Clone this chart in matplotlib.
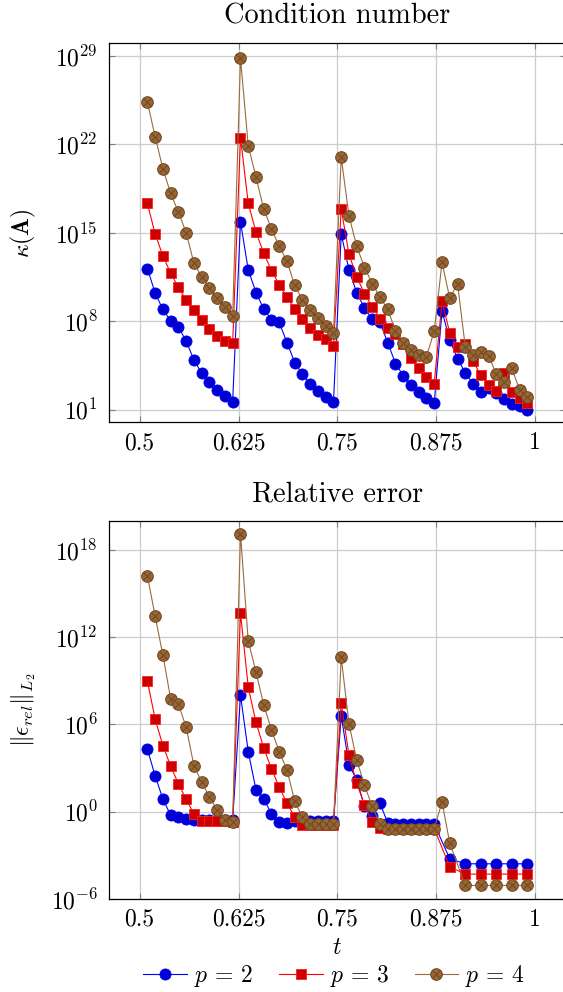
import numpy as np
import matplotlib
matplotlib.use('Agg')
import matplotlib.pyplot as plt
from matplotlib.path import Path
from matplotlib.ticker import FixedLocator, NullLocator

plt.rcParams.update({
    'font.family': 'serif',
    'font.serif': ['cmr10'],
    'mathtext.fontset': 'cm',
    'axes.formatter.use_mathtext': True,
    'font.size': 17,
    'axes.unicode_minus': True,
})

# ---------------- data ----------------
t = [0.5098, 0.5196, 0.5294, 0.5392, 0.5490, 0.5588, 0.5686, 0.5784, 0.5882, 0.5980,
     0.6078, 0.6176, 0.6275, 0.6373, 0.6471, 0.6569, 0.6667, 0.6765, 0.6863, 0.6961,
     0.7059, 0.7157, 0.7255, 0.7353, 0.7451, 0.7549, 0.7647, 0.7745, 0.7843, 0.7941,
     0.8039, 0.8137, 0.8235, 0.8333, 0.8431, 0.8529, 0.8627, 0.8725, 0.8824, 0.8922,
     0.9020, 0.9118, 0.9216, 0.9314, 0.9412, 0.9510, 0.9608, 0.9706, 0.9804, 0.9902]

# log10 of condition number
kappa_p2 = [12.17, 10.22, 8.93, 8.02, 7.55, 6.42, 4.94, 3.88, 3.17, 2.56, 2.09, 1.64,
            15.86, 12.06, 10.27, 8.97, 8.13, 7.90, 6.31, 4.73, 3.80, 3.04, 2.46, 2.01, 1.59,
            14.94, 12.04, 10.27, 9.05, 8.18, 7.90, 6.31, 4.65, 3.70, 2.99, 2.36, 1.94, 1.53,
            8.79, 6.50, 5.04, 3.91, 3.07, 2.40, 2.75, 2.32, 1.85, 1.48, 1.26, 0.95]
kappa_p3 = [17.32, 14.89, 13.17, 11.80, 10.67, 9.69, 8.85, 8.08, 7.37, 6.81, 6.44, 6.28,
            22.51, 17.34, 15.05, 13.38, 12.00, 10.90, 9.90, 8.97, 8.16, 7.50, 6.89, 6.57, 6.04,
            16.87, 13.30, 11.51, 10.19, 9.13, 8.18, 7.50, 6.97, 6.23, 5.09, 4.30, 3.59, 3.06,
            9.58, 7.07, 5.92, 6.23, 4.85, 3.72, 2.99, 2.48, 3.91, 2.40, 1.92, 1.53]
kappa_p4 = [25.34, 22.60, 20.06, 18.11, 16.65, 15.00, 12.59, 11.51, 10.64, 9.82, 9.11, 8.40,
            28.80, 21.90, 19.40, 16.89, 15.28, 13.94, 12.75, 10.83, 9.69, 8.90, 8.24, 7.60, 7.05,
            20.96, 16.34, 13.94, 12.25, 10.98, 9.90, 8.95, 7.23, 6.28, 5.76, 5.33, 5.20, 7.21,
            12.65, 9.80, 10.98, 5.97, 5.31, 5.57, 5.23, 3.86, 3.15, 4.28, 2.59, 2.04]

# relative error samples (indices into t)
err_idx_p23 = list(range(0, 38)) + [39, 41, 43, 45, 47, 49]
err_idx_p4 = list(range(0, 40)) + [41, 43, 45, 47, 49]

# log10 of relative error
err_p2 = [4.29, 2.45, 0.87, -0.25, -0.39, -0.50, -0.55, -0.60, -0.60, -0.60, -0.60, -0.60,
          8.01, 4.13, 1.51, 0.87, -0.14, -0.71, -0.75, -0.62, -0.62, -0.62, -0.62, -0.62, -0.62,
          6.58, 3.22, 2.19, 0.36, -0.30, 0.59, -0.78, -0.85, -0.85, -0.85, -0.85, -0.85, -0.85,
          -3.24, -3.58, -3.58, -3.58, -3.58, -3.58]
err_p3 = [8.97, 6.35, 4.54, 3.13, 1.92, 0.84, -0.14, -0.62, -0.62, -0.62, -0.62, -0.68,
          13.65, 8.56, 6.14, 4.38, 2.94, 1.69, 0.57, -0.36, -0.89, -0.89, -0.89, -0.89, -0.89,
          7.44, 3.90, 1.96, 0.48, -0.71, -1.12, -1.16, -1.16, -1.16, -1.16, -1.16, -1.16, -1.16,
          -3.79, -4.29, -4.29, -4.29, -4.29, -4.29]
err_p4 = [16.21, 13.42, 10.75, 7.75, 7.40, 5.80, 3.17, 2.03, 1.01, 0.14, -0.55, -0.68,
          19.09, 11.73, 9.61, 7.33, 5.62, 4.13, 2.88, 0.71, -0.39, -0.87, -0.87, -0.87, -0.87,
          10.60, 6.03, 3.56, 1.83, 0.36, -0.82, -1.16, -1.16, -1.16, -1.16, -1.16, -1.16, -1.16,
          0.66, -2.17, -5.07, -5.07, -5.07, -5.07, -5.07]

series_labels = [r'$p\,=\,2$', r'$p\,=\,3$', r'$p\,=\,4$']
xticks = [0.5, 0.625, 0.75, 0.875, 1.0]
xticklabels = ['0.5', '0.625', '0.75', '0.875', '1']
kappa_yticks = [1e1, 1e8, 1e15, 1e22, 1e29]
err_yticks = [1e-6, 1e0, 1e6, 1e12, 1e18]

# ---------------- styles ----------------
r2 = np.sqrt(0.5)
circ = Path.unit_circle()
otimes = Path(np.vstack([circ.vertices, [[-r2, -r2], [r2, r2], [-r2, r2], [r2, -r2]]]),
              np.concatenate([circ.codes, [Path.MOVETO, Path.LINETO, Path.MOVETO, Path.LINETO]]))

styles = [
    dict(color='#0000ff', marker='o', ms=8.0, mfc='#0000d0', mec='#0000ff', mew=0.6, lw=0.8),
    dict(color='#ff0000', marker='s', ms=7.2, mfc='#cc0000', mec='#ff2020', mew=0.6, lw=0.8),
    dict(color='#9a6a3c', marker=otimes, ms=8.4, mfc='#996633', mec='#6e4722', mew=0.7, lw=0.8),
]

fig = plt.figure(figsize=(5.63, 9.92), dpi=100)
ax1 = fig.add_axes([0.1936, 0.5743, 0.8112, 0.3821])
ax2 = fig.add_axes([0.1936, 0.09375, 0.8112, 0.3814])

tarr = np.array(t)
for vals, st in zip([kappa_p2, kappa_p3, kappa_p4], styles):
    ax1.plot(tarr, 10.0 ** np.array(vals), **st)

handles = []
for idx, vals, st, lab in zip([err_idx_p23, err_idx_p23, err_idx_p4],
                              [err_p2, err_p3, err_p4], styles, series_labels):
    h, = ax2.plot(tarr[idx], 10.0 ** np.array(vals), label=lab, **st)
    handles.append(h)

for ax, ylim, yt in [(ax1, (1e0, 1e30), kappa_yticks), (ax2, (1e-6, 1e20), err_yticks)]:
    ax.set_yscale('log')
    ax.set_ylim(*ylim)
    ax.set_xlim(0.4612, 1.0388)
    ax.yaxis.set_major_locator(FixedLocator(yt))
    ax.yaxis.set_minor_locator(NullLocator())
    ax.set_xticks(xticks)
    ax.set_xticklabels(xticklabels)
    ax.grid(True, color='#cccccc', lw=0.9)
    ax.set_axisbelow(True)
    ax.tick_params(which='both', direction='in', length=4.5, width=0.8, color='#808080',
                   top=True, right=True)
    ax.tick_params(axis='y', pad=8)
    ax.tick_params(axis='x', pad=7)
    for sp in ax.spines.values():
        sp.set_linewidth(0.9)
        sp.set_color('black')

ax1.set_title('Condition number', pad=14)
ax2.set_title('Relative error', pad=14)
ax1.set_ylabel(r'$\kappa(\mathbf{A})$')
ax2.set_ylabel(r'$\|\epsilon_{rel}\|_{L_2}$')
ax1.yaxis.set_label_coords(-0.155, 0.5)
ax2.yaxis.set_label_coords(-0.155, 0.5)
ax2.set_xlabel(r'$t$', labelpad=4)

fig.legend(handles, series_labels, loc='center', bbox_to_anchor=(334 / 563, 1 - 976 / 992),
           ncol=3, frameon=False, handlelength=1.85, handletextpad=0.3, columnspacing=1.1,
           numpoints=1, borderaxespad=0, borderpad=0)

fig.savefig('out.png', dpi=100)
